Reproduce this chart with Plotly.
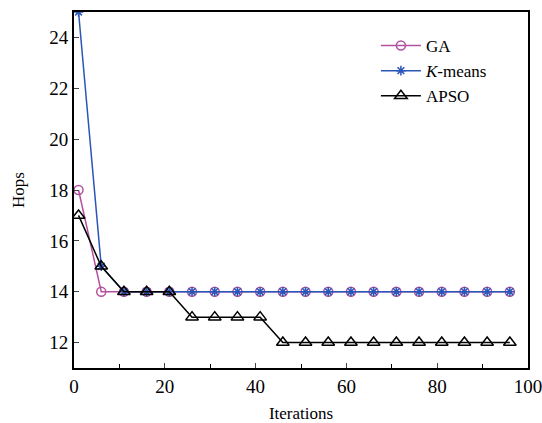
import plotly.graph_objects as go

iterations = [1, 6, 11, 16, 21, 26, 31, 36, 41, 46, 51, 56, 61, 66, 71, 76, 81, 86, 91, 96]
ga = [18, 14, 14, 14, 14, 14, 14, 14, 14, 14, 14, 14, 14, 14, 14, 14, 14, 14, 14, 14]
kmeans = [25, 15, 14, 14, 14, 14, 14, 14, 14, 14, 14, 14, 14, 14, 14, 14, 14, 14, 14, 14]
apso = [17, 15, 14, 14, 14, 13, 13, 13, 13, 12, 12, 12, 12, 12, 12, 12, 12, 12, 12, 12]

font = "Liberation Serif"

fig = go.Figure()
fig.add_trace(go.Scatter(x=iterations, y=ga, name="GA", mode="lines+markers",
                         line=dict(color="#b5509e", width=1.5),
                         marker=dict(symbol="circle-open", size=9, color="#b5509e", line=dict(width=1.5))))
fig.add_trace(go.Scatter(x=iterations, y=kmeans, name="<i>K</i>-means", mode="lines+markers",
                         line=dict(color="#2a56b8", width=1.5),
                         marker=dict(symbol="asterisk-open", size=8, color="#2a56b8", line=dict(width=1.5, color="#2a56b8"))))
fig.add_trace(go.Scatter(x=iterations, y=apso, name="APSO", mode="lines+markers",
                         line=dict(color="black", width=1.5),
                         marker=dict(symbol="triangle-up-open", size=11, color="black", line=dict(width=1.5))))

fig.update_layout(
    width=542, height=423,
    margin=dict(l=74, r=14, t=12, b=55),
    paper_bgcolor="white", plot_bgcolor="white",
    font=dict(family=font, size=17, color="black"),
    showlegend=True,
    legend=dict(x=0.665, y=0.955, xanchor="left", yanchor="top", bgcolor="rgba(0,0,0,0)",
                font=dict(family=font, size=17), itemwidth=40, tracegroupgap=0),
    xaxis=dict(range=[0, 100], tickvals=[0, 20, 40, 60, 80, 100], ticks="inside", ticklen=5,
               showline=True, linecolor="black", linewidth=2, mirror=True, showgrid=False, zeroline=False,
               automargin=False, ticklabeloverflow="allow",
               minor=dict(tickvals=[10, 30, 50, 70, 90], ticks="inside", ticklen=4, tickcolor="black"),
               title=dict(text="Iterations", font=dict(family=font, size=17)),
               tickfont=dict(family=font, size=19)),
    yaxis=dict(range=[11, 25], tickvals=[12, 14, 16, 18, 20, 22, 24], ticks="inside", ticklen=5,
               showline=True, linecolor="black", linewidth=2, mirror=True, showgrid=False, zeroline=False,
               automargin=False,
               tickfont=dict(family=font, size=19)),
    annotations=[dict(text="Hops", xref="paper", yref="paper", x=0, y=0.5, xshift=-56,
                      xanchor="center", yanchor="middle",
                      textangle=-90, showarrow=False, font=dict(family=font, size=17))],
)

fig.write_html("out.html", config={"displayModeBar": False},
               post_script="document.body.style.margin='0';document.body.style.padding='0';")
